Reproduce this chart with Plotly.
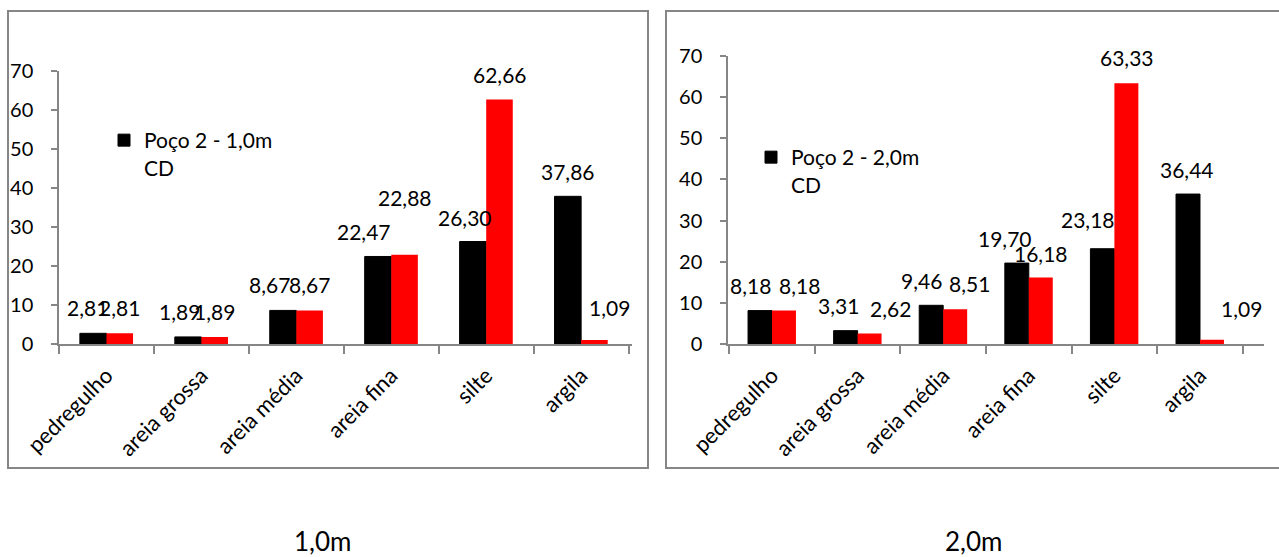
import plotly.graph_objects as go

# --- data -------------------------------------------------------------
categorias = ["pedregulho", "areia grossa", "areia média", "areia fina", "silte", "argila"]

p1_preto = [2.81, 1.89, 8.67, 22.47, 26.30, 37.86]
p1_vermelho = [2.81, 1.89, 8.67, 22.88, 62.66, 1.09]

p2_preto = [8.18, 3.31, 9.46, 19.70, 23.18, 36.44]
p2_vermelho = [8.18, 2.62, 8.51, 16.18, 63.33, 1.09]

nome_1 = "Poço 2 - 1,0m<br>CD"
nome_2 = "Poço 2 - 2,0m<br>CD"
titulos = ["1,0m", "2,0m"]
y_ticks = [0, 10, 20, 30, 40, 50, 60, 70]

# --- label placement (pixel nudges: dx, dy above the bar top) ---------
desl_1_preto = [(-6, 26), (-9, 25), (-13, 26), (-14, 25), (-8, 24), (0, 25)]
desl_1_verm = [(0, 26), (0, 25), (0, 26), (0, 57), (0, 25), (15, 33)]
desl_2_preto = [(-9, 25), (-7, 25), (-9, 25), (-11, 25), (-14, 29), (0, 25)]
desl_2_verm = [(15, 25), (20, 25), (14, 26), (0, 24), (0, 26), (29, 31)]

W, H = 1279, 557
FONT = "Lato"
PRETO = "#000000"
VERMELHO = "#ff0000"
CINZA = "#868686"


def fx(px):
    return px / W


def fy(py):
    return 1 - py / H


def rotulo(v):
    return f"{v:.2f}".replace(".", ",")


fig = go.Figure()

paineis = [
    dict(xa="x", ya="y", preto=p1_preto, verm=p1_vermelho, nome=nome_1,
         legend="legend", dp=desl_1_preto, dv=desl_1_verm,
         x0=59, x1=632),
    dict(xa="x2", ya="y2", preto=p2_preto, verm=p2_vermelho, nome=nome_2,
         legend="legend2", dp=desl_2_preto, dv=desl_2_verm,
         x0=728, x1=1264),
]
Y0 = 344.3
BARGAP = 0.44

anots = []
for p in paineis:
    fig.add_trace(go.Bar(
        x=categorias, y=p["preto"], name=p["nome"], xaxis=p["xa"], yaxis=p["ya"],
        marker=dict(color=PRETO, line=dict(color=PRETO, width=1)),
        legend=p["legend"], showlegend=True, hoverinfo="x+y",
    ))
    fig.add_trace(go.Bar(
        x=categorias, y=p["verm"], name="CD", xaxis=p["xa"], yaxis=p["ya"],
        marker=dict(color=VERMELHO, line=dict(width=0)),
        showlegend=False, hoverinfo="x+y",
    ))
    cat_w = (p["x1"] - p["x0"]) / len(categorias)
    half = cat_w * (1 - BARGAP) / 4
    for serie, desl, sinal in ((p["preto"], p["dp"], -1), (p["verm"], p["dv"], 1)):
        for cat, v, (dx, dy) in zip(categorias, serie, desl):
            anots.append(dict(
                x=cat, y=v, xref=p["xa"], yref=p["ya"], text=rotulo(v),
                showarrow=False, xanchor="center", yanchor="middle",
                xshift=sinal * half + dx, yshift=dy,
                font=dict(family=FONT, size=21, color="#000000"),
            ))

# bottom captions
for t, cx in zip(titulos, (322, 973)):
    anots.append(dict(
        x=fx(cx), y=fy(541), xref="paper", yref="paper", text=t,
        showarrow=False, xanchor="center", yanchor="middle",
        font=dict(family=FONT, size=26, color="#000000"),
    ))

eixo_x = dict(
    type="category", showline=True, linecolor=CINZA, linewidth=1.5,
    ticks="outside", tickson="boundaries", ticklen=8, tickcolor=CINZA, tickwidth=1.5,
    tickangle=-45, ticklabelstandoff=8,
    tickfont=dict(family=FONT, size=22, color="#000000"),
    showgrid=False, zeroline=False, fixedrange=True, automargin=False,
)
eixo_y = dict(
    range=[0, 70], tickvals=y_ticks, showline=True, linecolor=CINZA, linewidth=1.5,
    ticks="outside", ticklen=6, tickcolor=CINZA, tickwidth=1.5, ticklabelstandoff=14,
    tickfont=dict(family=FONT, size=20, color="#000000"),
    showgrid=False, zeroline=False, fixedrange=True, automargin=False,
)

fig.update_layout(
    width=W, height=H,
    margin=dict(l=0, r=0, t=0, b=0, autoexpand=False),
    paper_bgcolor="#ffffff", plot_bgcolor="#ffffff",
    barmode="group", bargap=BARGAP, bargroupgap=0,
    font=dict(family=FONT, size=20, color="#000000"),
    xaxis=dict(eixo_x, domain=[fx(59), fx(632)], anchor="y"),
    yaxis=dict(eixo_y, domain=[fy(Y0), fy(70.7)], anchor="x"),
    xaxis2=dict(eixo_x, domain=[fx(728), fx(1264)], anchor="y2"),
    yaxis2=dict(eixo_y, domain=[fy(Y0), fy(55.7)], anchor="x2"),
    legend=dict(x=fx(104), y=fy(120), xanchor="left", yanchor="top", valign="top",
                bgcolor="rgba(0,0,0,0)", font=dict(family=FONT, size=21)),
    legend2=dict(x=fx(751), y=fy(137), xanchor="left", yanchor="top", valign="top",
                 bgcolor="rgba(0,0,0,0)", font=dict(family=FONT, size=21)),
    annotations=anots,
    shapes=[
        dict(type="rect", xref="paper", yref="paper", x0=fx(8), x1=fx(648),
             y0=fy(468), y1=fy(11), line=dict(color=CINZA, width=2), layer="below"),
        dict(type="rect", xref="paper", yref="paper", x0=fx(666), x1=fx(1295),
             y0=fy(468), y1=fy(11), line=dict(color=CINZA, width=2), layer="below"),
    ],
    showlegend=True,
)

fig.write_html("out.html")
